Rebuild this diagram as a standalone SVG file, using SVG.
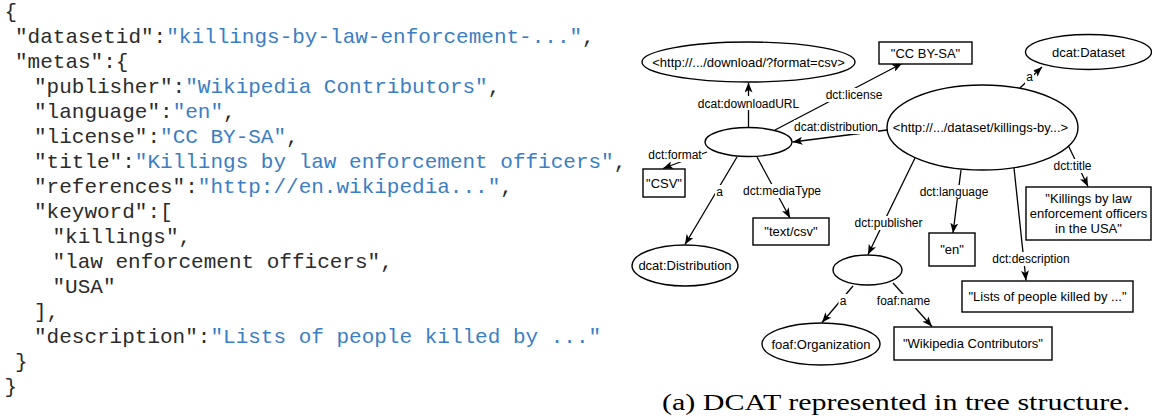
<svg xmlns="http://www.w3.org/2000/svg" width="1152" height="417" viewBox="0 0 1152 417">
<style>
.code{font-family:"Liberation Mono","Courier New",monospace;font-size:21px;fill:#2b2b2b;white-space:pre}
.v{fill:#3b7ec4}
.node{fill:#fff;stroke:#000;stroke-width:1.4}
.nt{font-family:"Liberation Sans",Arial,sans-serif;font-size:13px;fill:#000;text-anchor:middle}
.lt{font-family:"Liberation Sans",Arial,sans-serif;font-size:12px;fill:#000;text-anchor:middle}
.lbg{fill:#fff;stroke:none}
.edge{stroke:#000;stroke-width:1.3;fill:none;marker-end:url(#arr)}
.cap{font-family:"Liberation Serif","Times New Roman",serif;font-size:23px;fill:#000}
</style>
<defs>
<marker id="arr" viewBox="0 0 10 8" refX="10" refY="4" markerWidth="10" markerHeight="8" markerUnits="userSpaceOnUse" orient="auto">
<path d="M0,0 L10,4 L0,8 L2.5,4 Z" fill="#000"/>
</marker>
</defs>

<g id="json">
<text class="code" x="4.5" y="18">{</text>
<text class="code" x="15" y="43">"datasetid":<tspan class="v">"killings-by-law-enforcement-..."</tspan>,</text>
<text class="code" x="15" y="68">"metas":{</text>
<text class="code" x="34" y="93">"publisher":<tspan class="v">"Wikipedia Contributors"</tspan>,</text>
<text class="code" x="34" y="118">"language":<tspan class="v">"en"</tspan>,</text>
<text class="code" x="34" y="143">"license":<tspan class="v">"CC BY-SA"</tspan>,</text>
<text class="code" x="34" y="168">"title":<tspan class="v">"Killings by law enforcement officers"</tspan>,</text>
<text class="code" x="34" y="193">"references":<tspan class="v">"http://en.wikipedia..."</tspan>,</text>
<text class="code" x="34" y="218">"keyword":[</text>
<text class="code" x="52.5" y="243">"killings",</text>
<text class="code" x="52.5" y="268">"law enforcement officers",</text>
<text class="code" x="52.5" y="293">"USA"</text>
<text class="code" x="34" y="318">],</text>
<text class="code" x="34" y="343">"description":<tspan class="v">"Lists of people killed by ..."</tspan></text>
<text class="code" x="15" y="368">}</text>
<text class="code" x="4.5" y="393">}</text>
</g>

<g id="connectors">
<line class="edge" x1="748.5" y1="127" x2="748.5" y2="82.5"/>
<line class="edge" x1="775" y1="130" x2="902" y2="63.5"/>
<line class="edge" x1="887" y1="130" x2="792.5" y2="142"/>
<line class="edge" x1="707" y1="152" x2="663" y2="168.5"/>
<line class="edge" x1="737" y1="157" x2="685" y2="244.5"/>
<line class="edge" x1="757" y1="157" x2="790" y2="218"/>
<line class="edge" x1="1020" y1="88" x2="1042" y2="67"/>
<line class="edge" x1="915" y1="158" x2="868" y2="254.5"/>
<line class="edge" x1="961" y1="170" x2="953" y2="233"/>
<line class="edge" x1="1014" y1="168" x2="1026" y2="280.5"/>
<line class="edge" x1="1068" y1="145" x2="1088" y2="186.5"/>
<line class="edge" x1="853" y1="286" x2="822" y2="322.5"/>
<line class="edge" x1="893" y1="283" x2="932" y2="326.5"/>

<rect class="lbg" x="698" y="96" width="101" height="14"/>
<text class="lt" x="748.5" y="108">dcat:downloadURL</text>
<rect class="lbg" x="825" y="88" width="58" height="14"/>
<text class="lt" x="854" y="99">dct:license</text>
<rect class="lbg" x="794" y="120" width="84" height="14"/>
<text class="lt" x="836" y="131">dcat:distribution</text>
<rect class="lbg" x="648" y="148" width="54" height="14"/>
<text class="lt" x="675" y="159">dct:format</text>
<rect class="lbg" x="715" y="185" width="9" height="14"/>
<text class="lt" x="719.5" y="196">a</text>
<rect class="lbg" x="742" y="184" width="80" height="14"/>
<text class="lt" x="782" y="195">dct:mediaType</text>
<rect class="lbg" x="1025" y="70" width="9" height="14"/>
<text class="lt" x="1029.5" y="81">a</text>
<rect class="lbg" x="854" y="216" width="69" height="14"/>
<text class="lt" x="888.5" y="227">dct:publisher</text>
<rect class="lbg" x="919" y="185" width="70" height="14"/>
<text class="lt" x="954" y="196">dct:language</text>
<rect class="lbg" x="991" y="252" width="80" height="14"/>
<text class="lt" x="1031" y="263">dct:description</text>
<rect class="lbg" x="1052" y="159" width="41" height="14"/>
<text class="lt" x="1072.5" y="170">dct:title</text>
<rect class="lbg" x="838.5" y="294" width="9" height="14"/>
<text class="lt" x="843" y="305">a</text>
<rect class="lbg" x="876" y="294" width="55" height="14"/>
<text class="lt" x="903.5" y="305">foaf:name</text>
</g>

<g id="n-download">
<ellipse class="node" cx="748.5" cy="62" rx="106.5" ry="20"/>
<text class="nt" x="748.5" y="66.5">&lt;http://.../download/?format=csv&gt;</text>
</g>
<g id="n-ccbysa">
<rect class="node" x="879" y="42" width="93" height="22"/>
<text class="nt" x="925.5" y="57.5">"CC BY-SA"</text>
</g>
<g id="n-dcat-dataset">
<ellipse class="node" cx="1088.5" cy="52" rx="63" ry="17.5"/>
<text class="nt" x="1088.5" y="56.5">dcat:Dataset</text>
</g>
<g id="n-dataset">
<ellipse class="node" cx="982.5" cy="127.5" rx="95.5" ry="42.5"/>
<text class="nt" x="980.5" y="132">&lt;http://.../dataset/killings-by...&gt;</text>
</g>
<g id="n-distribution">
<ellipse class="node" cx="748.5" cy="142" rx="43.5" ry="14.5"/>
</g>
<g id="n-csv">
<rect class="node" x="643" y="169" width="42" height="28"/>
<text class="nt" x="664" y="187.5">"CSV"</text>
</g>
<g id="n-dcat-distribution">
<ellipse class="node" cx="685" cy="265.5" rx="53" ry="20.5"/>
<text class="nt" x="685" y="270">dcat:Distribution</text>
</g>
<g id="n-textcsv">
<rect class="node" x="753" y="218" width="76" height="27"/>
<text class="nt" x="791" y="236">"text/csv"</text>
</g>
<g id="n-publisher">
<ellipse class="node" cx="867.5" cy="270" rx="34.5" ry="15"/>
</g>
<g id="n-foaf-org">
<ellipse class="node" cx="821" cy="344" rx="59" ry="21"/>
<text class="nt" x="821" y="348.5">foaf:Organization</text>
</g>
<g id="n-wikipedia">
<rect class="node" x="894" y="327" width="158" height="33"/>
<text class="nt" x="973" y="348">"Wikipedia Contributors"</text>
</g>
<g id="n-en">
<rect class="node" x="929" y="233" width="46" height="33"/>
<text class="nt" x="952" y="254">"en"</text>
</g>
<g id="n-title">
<rect class="node" x="1026" y="187" width="125" height="53"/>
<text class="nt" x="1088.5" y="203">"Killings by law</text>
<text class="nt" x="1088.5" y="218">enforcement officers</text>
<text class="nt" x="1088.5" y="233">in the USA"</text>
</g>
<g id="n-description">
<rect class="node" x="962" y="281" width="171" height="31"/>
<text class="nt" x="1047.5" y="301">"Lists of people killed by ..."</text>
</g>

<text class="cap" x="662" y="410" textLength="468" lengthAdjust="spacingAndGlyphs">(a) DCAT represented in tree structure.</text>
</svg>
